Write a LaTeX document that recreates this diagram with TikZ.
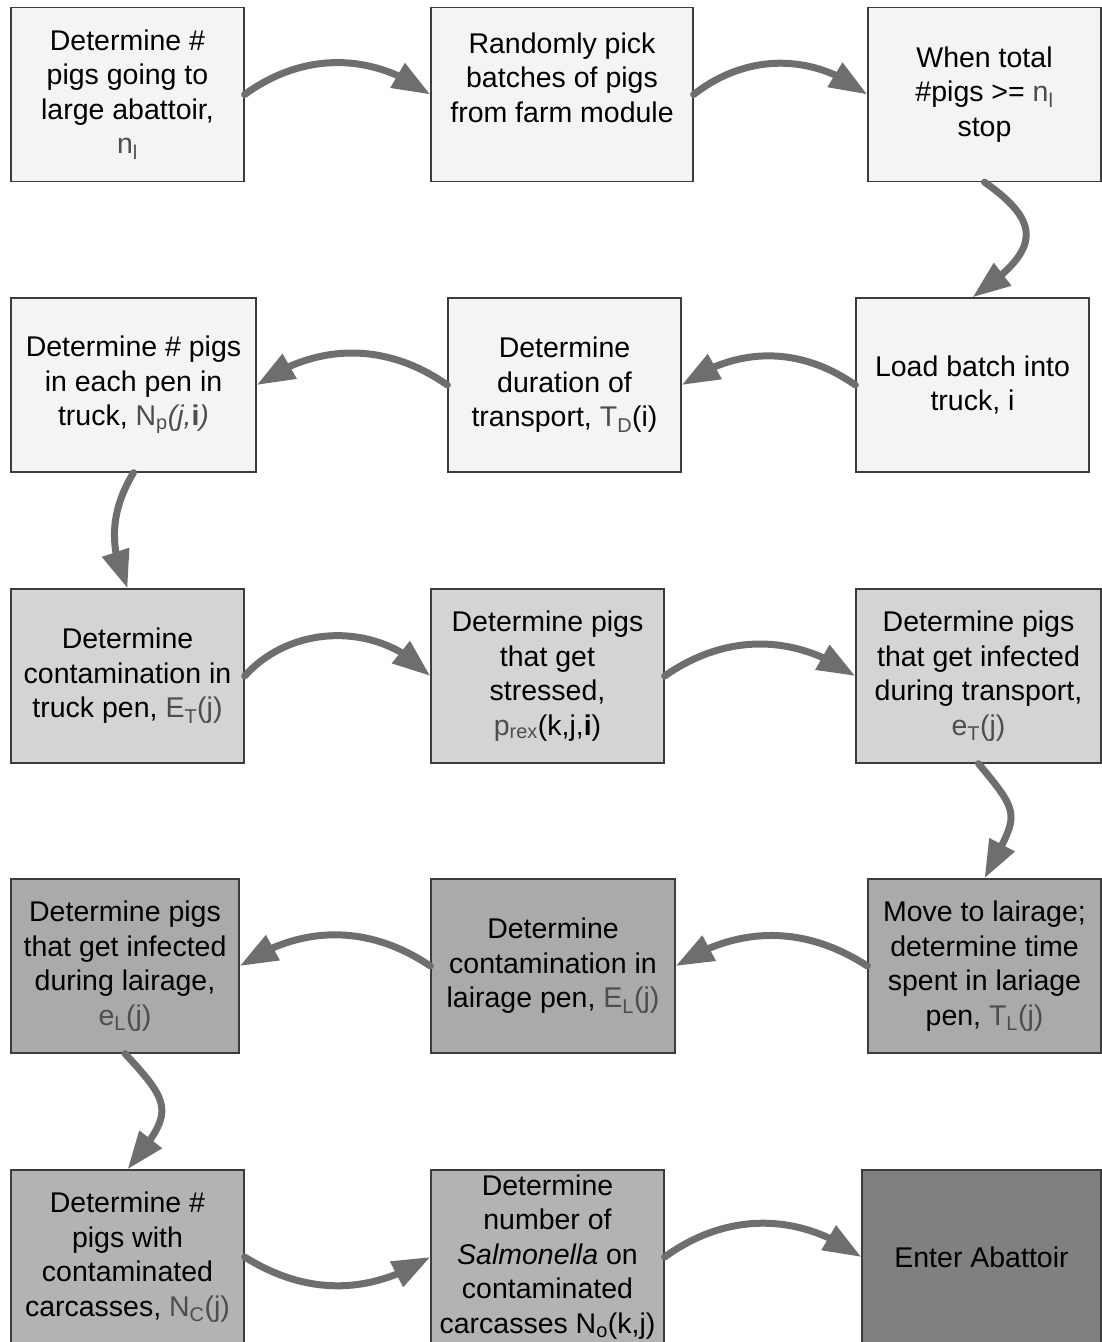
\documentclass[tikz,border=0pt]{standalone}
\usepackage{fontspec}
\setmainfont{Liberation Sans}
\usepackage{xcolor}
\usetikzlibrary{arrows.meta,bending}
\definecolor{lightfill}{HTML}{F4F4F4}
\definecolor{midfill}{HTML}{D4D4D4}
\definecolor{darkfill}{HTML}{AAAAAA}
\definecolor{lowfill}{HTML}{B3B3B3}
\definecolor{endfill}{HTML}{808080}
\definecolor{boxline}{HTML}{3C3C3C}
\definecolor{arrowgray}{HTML}{6E6E6E}
\definecolor{symgray}{HTML}{4D4D4D}
\newcommand{\gsym}[1]{\textcolor{symgray}{#1}}
\tikzset{
  box/.style={draw=boxline,line width=1.3pt,align=center,minimum height=174pt,inner sep=2pt,font=\fontsize{28.5}{34.5}\selectfont},
  lightbox/.style={box,fill=lightfill},
  midbox/.style={box,fill=midfill},
  darkbox/.style={box,fill=darkfill},
  lowbox/.style={box,fill=lowfill},
  endbox/.style={box,fill=endfill},
  arrow/.style={-{Triangle[length=38pt,width=27pt,flex]},line width=7pt,line cap=round,draw=arrowgray}
}
\begin{document}
\begin{tikzpicture}[x=1pt,y=1pt]
  \useasboundingbox (0,0) rectangle (1101,-1342);
  % row 1: picking the batches
  \node[lightbox,minimum width=233pt] (nlarge) at (127.5,-94.5) {Determine \#\\pigs going to\\large abattoir,\\\gsym{n\textsubscript{l}}};
  \node[lightbox,minimum width=262pt] (pick) at (562,-94.5) {Randomly pick\\batches of pigs\\from farm module\\~};
  \node[lightbox,minimum width=233pt] (stop) at (984.5,-94.5) {When total\\\#pigs >= \gsym{n\textsubscript{l}}\\stop};
  % row 2: loading the truck
  \node[lightbox,minimum width=233pt] (load) at (972.5,-385) {Load batch into\\truck, i};
  \node[lightbox,minimum width=233pt] (duration) at (564.5,-385) {Determine\\duration of\\transport, \gsym{T\textsubscript{D}}(i)};
  \node[lightbox,minimum width=245pt] (penpigs) at (133.5,-385) {Determine \# pigs\\in each pen in\\truck, \gsym{N\textsubscript{p}\textit{(j,}\textbf{i}\textit{)}}};
  % row 3: transport
  \node[midbox,minimum width=233pt] (truckcont) at (127.5,-676) {Determine\\contamination in\\truck pen, \gsym{E\textsubscript{T}(j)}};
  \node[midbox,minimum width=233pt] (stress) at (547.5,-676) {Determine pigs\\that get\\stressed,\\\gsym{p\textsubscript{rex}}(k,j,\textbf{i})};
  \node[midbox,minimum width=245pt] (transinf) at (978.5,-676) {Determine pigs\\that get infected\\during transport,\\\gsym{e\textsubscript{T}(j)}};
  % row 4: lairage
  \node[darkbox,minimum width=233pt] (lairage) at (984.5,-966) {Move to lairage;\\determine time\\spent in lariage\\pen, \gsym{T\textsubscript{L}(j)}};
  \node[darkbox,minimum width=244pt] (laircont) at (553,-966) {Determine\\contamination in\\lairage pen, \gsym{E\textsubscript{L}(j)}};
  \node[darkbox,minimum width=228pt] (lairinf) at (125,-966) {Determine pigs\\that get infected\\during lairage,\\\gsym{e\textsubscript{L}(j)}};
  % row 5: carcasses
  \node[lowbox,minimum width=233pt] (contcarc) at (127.5,-1257) {Determine \#\\pigs with\\contaminated\\carcasses, \gsym{N\textsubscript{C}(j)}};
  \node[lowbox,minimum width=233pt] (salm) at (547.5,-1257) {Determine\\number of\\\textit{Salmonella} on\\contaminated\\carcasses N\textsubscript{o}(k,j)};
  \node[endbox,minimum width=239pt] (abattoir) at (981.5,-1257) {Enter Abattoir};
  % connectors
  \draw[arrow] (nlarge.east) to[bend left=36] (pick.west);
  \draw[arrow] (pick.east) to[bend left=38] (stop.west);
  \draw[arrow] (stop.south) to[out=-35,in=35,looseness=1.7] (load.north);
  \draw[arrow] (load.west) to[bend right=35] (duration.east);
  \draw[arrow] (duration.west) to[bend right=35] (penpigs.east);
  \draw[arrow] (penpigs.south) to[bend right=28] (truckcont.north);
  \draw[arrow] (truckcont.east) to[bend left=48] (stress.west);
  \draw[arrow] (stress.east) to[bend left=35] (transinf.west);
  \draw[arrow] (transinf.south) to[out=-50,in=63,looseness=1.6] (lairage.north);
  \draw[arrow] (lairage.west) to[bend right=33] (laircont.east);
  \draw[arrow] (laircont.west) to[bend right=34] (lairinf.east);
  \draw[arrow] (lairinf.south) to[out=-47,in=51,looseness=1.6] (contcarc.north);
  \draw[arrow] (contcarc.east) to[bend right=32] (salm.west);
  \draw[arrow] (salm.east) to[bend left=36] (abattoir.west);
\end{tikzpicture}
\end{document}
